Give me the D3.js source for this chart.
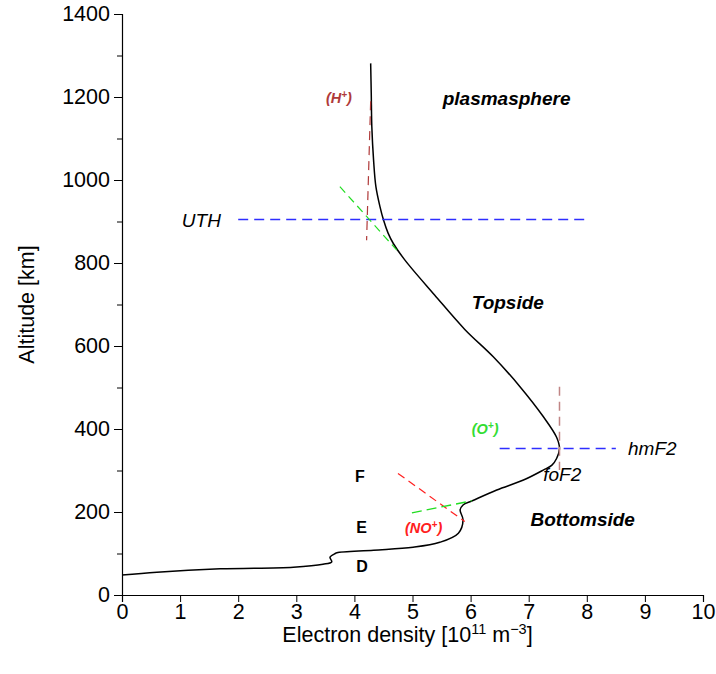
<!DOCTYPE html>
<html>
<head>
<meta charset="utf-8">
<script src="https://cdn.jsdelivr.net/npm/d3@7"></script>
<style>
  html, body { margin: 0; padding: 0; background: #fff; }
  svg { display: block; font-family: "Liberation Sans", Arial, sans-serif; }
</style>
</head>
<body>
<svg id="chart" width="716" height="674"></svg>
<script>
// ---- data ----
const xTicks = [0, 1, 2, 3, 4, 5, 6, 7, 8, 9, 10];
const yMajorTicks = [0, 200, 400, 600, 800, 1000, 1200, 1400];
const yMinorTicks = [100, 300, 500, 700, 900, 1100, 1300];

// electron density profile [Ne (1e11 m^-3), altitude (km)]
const profileNe = [0.0, 0.6, 1.69, 2.95, 3.46, 3.61, 3.58, 3.67, 3.70, 4.33, 5.01, 5.47, 5.79, 5.87, 5.82, 5.87, 6.03, 6.45, 6.91, 7.25, 7.40, 7.48, 7.53, 7.48, 7.25, 6.85, 6.39, 5.90, 5.38, 4.87, 4.67, 4.58, 4.50, 4.44, 4.37, 4.33, 4.30, 4.29, 4.28];
const profileAlt = [48, 55, 63, 67, 74, 80, 91, 100, 102, 108, 115, 127, 149, 181, 205, 217, 227, 253, 277, 301, 313, 329, 353, 380, 430, 502, 574, 640, 723, 807, 847, 872, 904, 936, 984, 1048, 1128, 1209, 1281];

// dashed guide lines
const utLine = [[2, 905], [8, 905]];
const hmf2Line = [[6.5, 353], [8.5, 353]];
const hPlusLine = [[4.28, 1190], [4.21, 855]];
const oPlusTopLine = [[3.75, 984], [4.73, 831]];
const foF2Line = [[7.53, 502], [7.53, 301]];
const noPlusLine = [[4.75, 293], [5.90, 177]];
const oPlusBottomLine = [[4.99, 198], [6.02, 227]];

// annotations: [text, superscript, x, alt]
const labelNames = ["plasmasphere", "UTH", "Topside", "hmF2", "foF2", "Bottomside"];
const labelPos = [[5.52, 1181], [1.03, 886], [6.02, 688], [8.71, 337], [7.25, 275], [7.03, 166]];
const layerNames = ["F", "E", "D"];
const layerPos = [[4.01, 273], [4.03, 149], [4.03, 56]];
const ionNames = ["(H", "(O", "(NO"];
const ionPos = [[3.51, 1186], [6.02, 388], [4.87, 149]];

// ---- layout ----
const svg = d3.select("#chart");
const margin = {left: 122, top: 14, right: 13, bottom: 79};
const W = 716, H = 674;
const x = d3.scaleLinear().domain([0, 10]).range([margin.left, W - margin.right]);
const y = d3.scaleLinear().domain([0, 1400]).range([H - margin.bottom, margin.top]);

// axes
const xAxis = d3.axisBottom(x).tickValues(xTicks).tickSize(7).tickPadding(2).tickFormat(d3.format("d"));
const gx = svg.append("g").attr("transform", `translate(0,${y(0)})`).call(xAxis);
gx.select(".domain").attr("stroke", "#000").attr("stroke-width", 1.2);
gx.selectAll(".tick line").attr("stroke", "#000");
gx.selectAll("text").attr("font-size", 21.5).attr("fill", "#000").attr("font-family", "Liberation Sans, Arial, sans-serif");

const yAxis = d3.axisLeft(y).tickValues(yMajorTicks).tickSize(8).tickPadding(4).tickFormat(d3.format("d"));
const gy = svg.append("g").attr("transform", `translate(${x(0)},0)`).call(yAxis);
gy.select(".domain").attr("stroke", "#000").attr("stroke-width", 1.2);
gy.selectAll(".tick line").attr("stroke", "#000");
gy.selectAll("text").attr("font-size", 21.5).attr("fill", "#000").attr("font-family", "Liberation Sans, Arial, sans-serif");

const yMinor = d3.axisLeft(y).tickValues(yMinorTicks).tickSize(5).tickFormat("");
const gym = svg.append("g").attr("transform", `translate(${x(0)},0)`).call(yMinor);
gym.select(".domain").remove();
gym.selectAll(".tick line").attr("stroke", "#000");

// axis titles
const xt = svg.append("text")
  .attr("x", (x(0) + x(10)) / 2 - 5).attr("y", 642)
  .attr("text-anchor", "middle").attr("font-size", 21.5).attr("fill", "#000");
xt.append("tspan").text("Electron density [10");
xt.append("tspan").attr("dy", -8).attr("font-size", 14.5).text("11");
xt.append("tspan").attr("dy", 8).text(" m");
xt.append("tspan").attr("dy", -8).attr("font-size", 14.5).text("\u22123");
xt.append("tspan").attr("dy", 8).text("]");

svg.append("text")
  .attr("transform", `translate(34,${(y(0) + y(1400)) / 2}) rotate(-90)`)
  .attr("text-anchor", "middle").attr("font-size", 21.5).attr("fill", "#000")
  .text("Altitude [km]");

// profile curve
const profile = profileNe.map((v, i) => [v, profileAlt[i]]);
const line = d3.line().x(d => x(d[0])).y(d => y(d[1])).curve(d3.curveCatmullRom.alpha(0.5));
svg.append("path").datum(profile).attr("d", line)
  .attr("fill", "none").attr("stroke", "#000").attr("stroke-width", 1.5);

// dashed guides
const straight = d3.line().x(d => x(d[0])).y(d => y(d[1]));
const guides = [
  [utLine, "#2e2eff", "10,6", 1.4],
  [hmf2Line, "#2e2eff", "10,6", 1.4],
  [hPlusLine, "#b03a3a", "9,6", 1.2],
  [oPlusTopLine, "#22dd22", "8,5", 1.2],
  [foF2Line, "#c08585", "9,6", 1.5],
  [noPlusLine, "#ff2020", "8,5", 1.2],
  [oPlusBottomLine, "#22dd22", "10,5", 1.4]
];
guides.forEach(g => {
  svg.append("path").datum(g[0]).attr("d", straight)
    .attr("fill", "none").attr("stroke", g[1]).attr("stroke-dasharray", g[2]).attr("stroke-width", g[3]);
});

// annotation labels
const boldLabels = {"plasmasphere": true, "Topside": true, "Bottomside": true};
labelNames.forEach((t, i) => {
  svg.append("text")
    .attr("x", x(labelPos[i][0])).attr("y", y(labelPos[i][1]))
    .attr("font-size", 19).attr("font-style", "italic")
    .attr("font-weight", boldLabels[t] ? "bold" : "normal")
    .attr("fill", "#000").text(t);
});
layerNames.forEach((t, i) => {
  svg.append("text")
    .attr("x", x(layerPos[i][0])).attr("y", y(layerPos[i][1]))
    .attr("font-size", 16).attr("font-weight", "bold").attr("fill", "#000").text(t);
});
const ionColors = ["#b03a3a", "#33dd33", "#ff2020"];
ionNames.forEach((t, i) => {
  const tx = svg.append("text")
    .attr("x", x(ionPos[i][0])).attr("y", y(ionPos[i][1]))
    .attr("font-size", 14.5).attr("font-weight", "bold").attr("font-style", "italic")
    .attr("fill", ionColors[i]);
  tx.append("tspan").text(t);
  tx.append("tspan").attr("dy", -5).attr("font-size", 10).text("+");
  tx.append("tspan").attr("dy", 5).text(")");
});
</script>
</body>
</html>
